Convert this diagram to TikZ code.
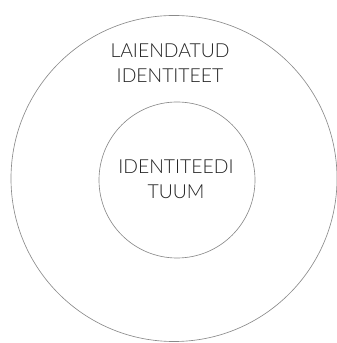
\documentclass[tikz,border=0pt]{standalone}
\usepackage{fontspec}
\setmainfont{Lato}[UprightFont=* Light]
\usepackage{tikz}
\definecolor{rim}{HTML}{8A8A8A}
\definecolor{ink}{HTML}{222222}

\begin{document}
\begin{tikzpicture}[x=0.03cm,y=0.03cm,ring/.style={draw=rim,line width=0.55pt,circle,inner sep=0pt},lbl/.style={text=ink,align=center,font=\fontsize{16.5}{21}\selectfont}]
\useasboundingbox (0,0) rectangle (336,343);
\node[ring,minimum size=9.78cm] (outer) at (174,164.5) {};
\node[ring,minimum size=4.68cm] (inner) at (177,163) {};
\node[lbl] (outerlabel) at (170,280) {LAIENDATUD\\IDENTITEET};
\node[lbl] (innerlabel) at (176,164) {IDENTITEEDI\\TUUM};
\end{tikzpicture}
\end{document}
